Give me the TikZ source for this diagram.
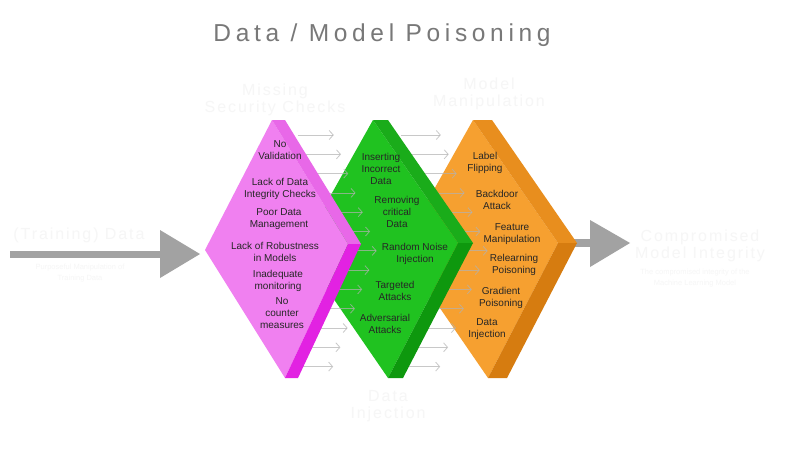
\documentclass[tikz,border=0pt]{standalone}
\usepackage{fontspec}
\setmainfont{Liberation Sans}
\newfontfamily\titlefont[LetterSpace=19]{Liberation Sans}
\newfontfamily\ghostfont[LetterSpace=12]{Liberation Sans}
\usetikzlibrary{arrows.meta}

\definecolor{titlegray}{RGB}{120,120,120}
\definecolor{ghostgray}{RGB}{246,246,246}
\definecolor{biggray}{RGB}{162,162,162}
\definecolor{pinkface}{RGB}{240,128,240}
\definecolor{pinkup}{RGB}{232,104,232}
\definecolor{pinkdown}{RGB}{226,34,226}
\definecolor{greenface}{RGB}{32,194,32}
\definecolor{greenup}{RGB}{26,172,26}
\definecolor{greendown}{RGB}{14,152,14}
\definecolor{orangeface}{RGB}{246,160,48}
\definecolor{orangeup}{RGB}{232,142,30}
\definecolor{orangedown}{RGB}{214,124,16}

\tikzset{
	cell text/.style={font=\fontsize{10}{12}\selectfont, align=center, text=black!85, inner sep=0pt},
	ghost/.style={font=\ghostfont\fontsize{16}{17}\selectfont, align=center, text=ghostgray},
	ghost small/.style={font=\fontsize{7.5}{11}\selectfont, align=center, text=ghostgray},
	thin arrow/.style={draw=gray!60, opacity=.7, line width=.8pt, -{Straight Barb[length=4pt,width=9pt]}}
}

\begin{document}
\begin{tikzpicture}[x=1pt,y=-1pt]

	\useasboundingbox (0,0) rectangle (799,450);
	\fill[white] (0,0) rectangle (799,450);

	\node[font=\titlefont\fontsize{24.5}{28}\selectfont, text=titlegray] (title) at (382,35) {Data / Model Poisoning};

	% Scritte chiare intorno
	\node[ghost] (missing) at (275,100) {Missing\\Security Checks};
	\node[ghost] (manip) at (489,94) {Model\\Manipulation};
	\node[ghost] (inject) at (388,406) {Data\\Injection};
	\node[ghost] (train) at (79,235) {(Training) Data};
	\node[ghost small] (trainsub) at (80,273) {Purposeful Manipulation of\\Training Data};
	\node[ghost] (compr) at (700,246) {Compromised\\Model Integrity};
	\node[ghost small] (comprsub) at (695,278) {The compromised integrity of the\\Machine Learning Model};

	% Frecce grigie grandi
	\fill[biggray] (10,251) rectangle (162,258);
	\fill[biggray] (160,230) -- (200,254) -- (160,278) -- cycle;
	\fill[biggray] (570,239) rectangle (592,247);
	\fill[biggray] (590,220) -- (630,243) -- (590,267) -- cycle;

	% Rombo arancione
	\fill[orangeface] (400,250) -- (473,120) -- (558,243) -- (488,378) -- cycle;
	\fill[orangeup] (473,120) -- (492,120) -- (577,243) -- (558,243) -- cycle;
	\fill[orangedown] (558,243) -- (577,243) -- (507,378) -- (488,378) -- cycle;
	\node[cell text] (o1) at (485,163) {Label\\Flipping};
	\node[cell text] (o2) at (497,199.5) {Backdoor\\Attack};
	\node[cell text] (o3) at (512,234) {Feature\\Manipulation};
	\node[cell text] (o4) at (514,265) {Relearning\\Poisoning};
	\node[cell text] (o5) at (501,298) {Gradient\\Poisoning};
	\node[cell text] (o6) at (487,329) {Data\\Injection};

	% Frecce sottili verde -> arancione
	\foreach \i in {0,...,12} {
		\pgfmathsetmacro\yy{135+19.3*\i}
		\pgfmathsetmacro\tx{440+48*(1-abs(\yy-250)/117)}
		\draw[thin arrow] (\tx-40,\yy) -- (\tx,\yy);
	}

	% Rombo verde
	\fill[greenface] (300,250) -- (373,120) -- (458,243) -- (388,378) -- cycle;
	\fill[greenup] (373,120) -- (388,120) -- (473,243) -- (458,243) -- cycle;
	\fill[greendown] (458,243) -- (473,243) -- (403,378) -- (388,378) -- cycle;
	\node[cell text] (g1) at (381,169) {Inserting\\Incorrect\\Data};
	\node[cell text] (g2) at (397,212) {Removing\\critical\\Data};
	\node[cell text] (g3) at (415,254) {Random Noise\\Injection};
	\node[cell text] (g4) at (395,291) {Targeted\\Attacks};
	\node[cell text] (g5) at (385,324) {Adversarial\\Attacks};

	% Frecce sottili rosa -> verde
	\foreach \i in {0,...,12} {
		\pgfmathsetmacro\yy{135+19.3*\i}
		\pgfmathsetmacro\tx{333+44*(1-abs(\yy-250)/117)}
		\draw[thin arrow] (\tx-36,\yy) -- (\tx,\yy);
	}

	% Rombo rosa
	\fill[pinkface] (205,250) -- (272,120) -- (348,244) -- (285,378) -- cycle;
	\fill[pinkup] (272,120) -- (285,120) -- (361,244) -- (348,244) -- cycle;
	\fill[pinkdown] (348,244) -- (361,244) -- (298,378) -- (285,378) -- cycle;
	\node[cell text] (p1) at (280,150.5) {No\\Validation};
	\node[cell text] (p2) at (280,189) {Lack of Data\\Integrity Checks};
	\node[cell text] (p3) at (279,219) {Poor Data\\Management};
	\node[cell text] (p4) at (275,252) {Lack of Robustness\\in Models};
	\node[cell text] (p5) at (278,281) {Inadequate\\monitoring};
	\node[cell text] (p6) at (282,313.5) {No\\counter\\measures};

\end{tikzpicture}
\end{document}
